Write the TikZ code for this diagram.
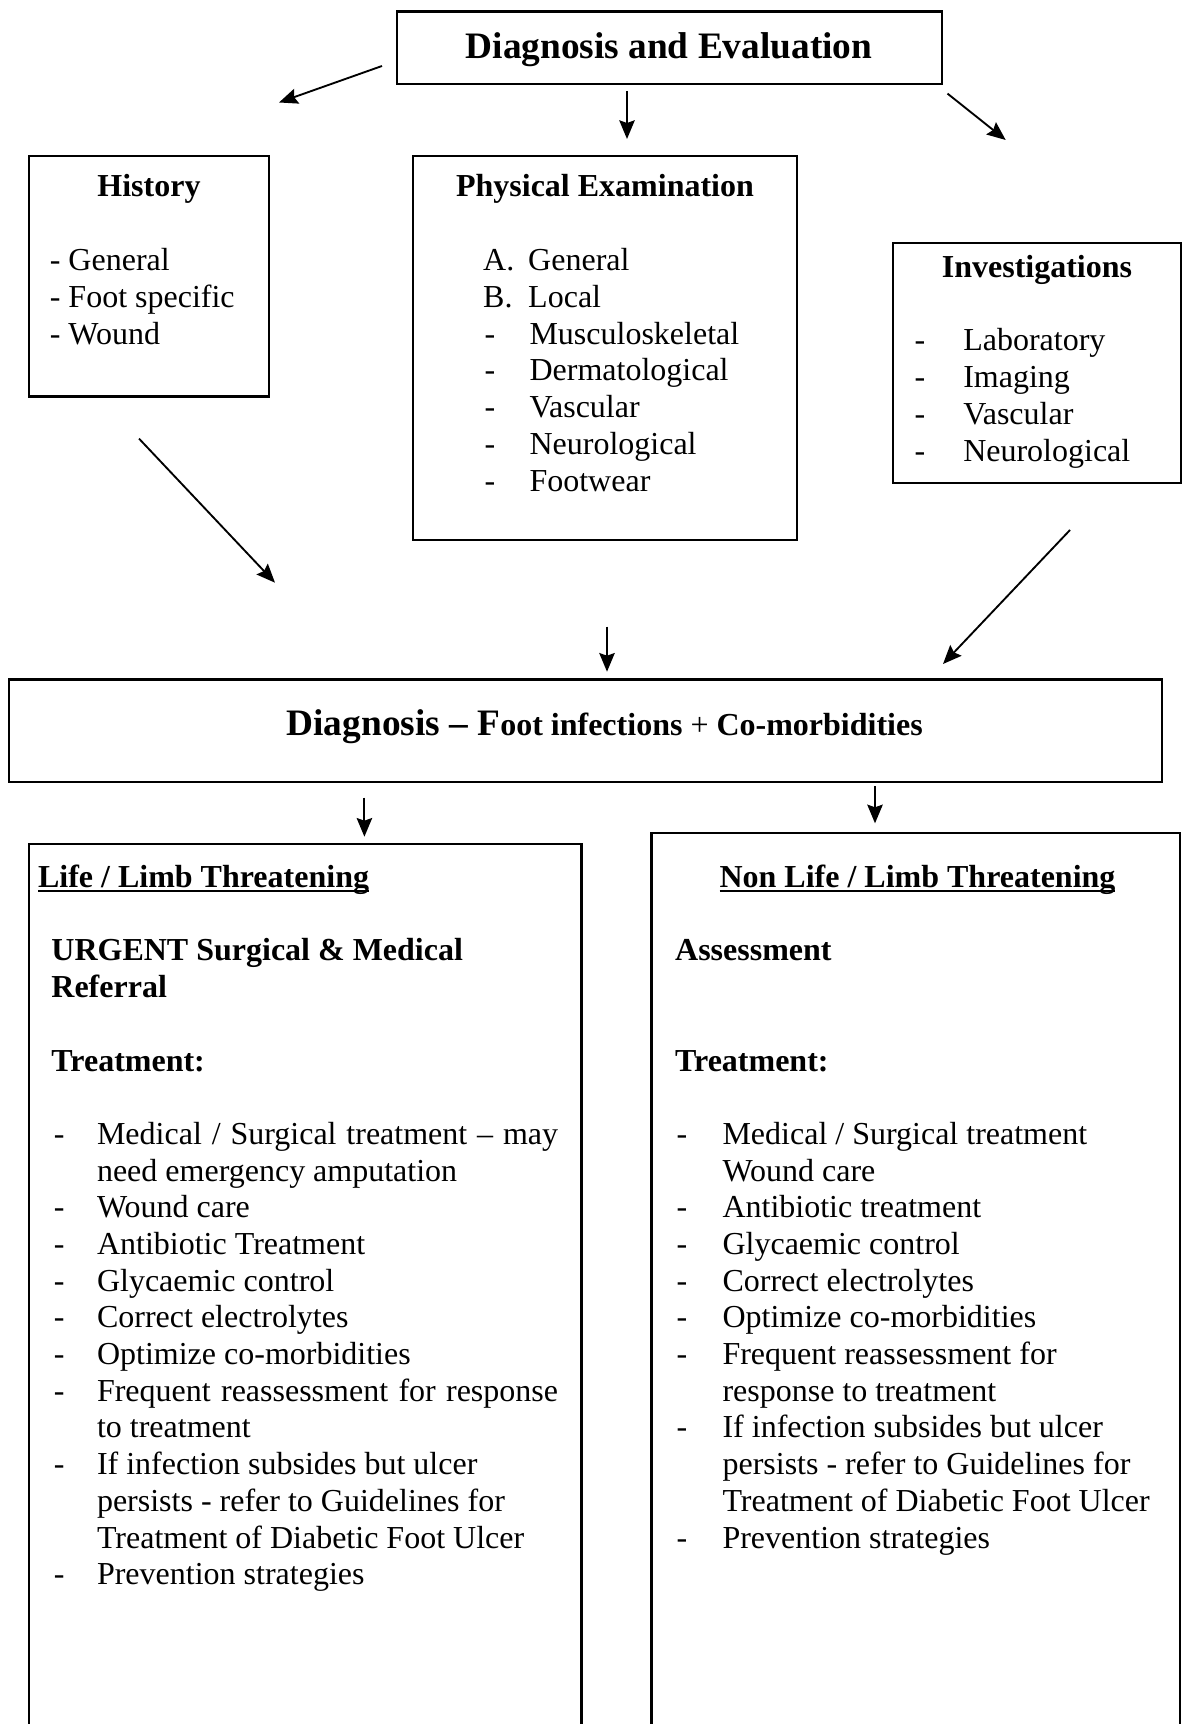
\documentclass[tikz,border=0pt]{standalone}
\usepackage{fontspec}
\setmainfont{Liberation Serif}
\usetikzlibrary{arrows.meta,fit}
\newcommand\myul[1]{\setbox0\hbox{#1}\rlap{\rule[-1.7pt]{\wd0}{0.8pt}}\box0}
\tikzset{
  box/.style={draw, line width=0.85pt, inner sep=0pt},
  arr/.style={line width=0.7pt, -{Stealth[length=7pt,width=5.8pt,inset=1pt]}},
  txt/.style={inner sep=0pt, anchor=base west, font=\fontsize{12}{14}\selectfont},
  ctxt/.style={inner sep=0pt, anchor=base, font=\fontsize{12}{14}\selectfont},
  bhead/.style={inner sep=0pt, anchor=base west, font=\fontsize{12}{14}\selectfont\bfseries},
  chead/.style={inner sep=0pt, anchor=base, font=\fontsize{12}{14}\selectfont\bfseries}
}
\begin{document}
\begin{tikzpicture}[x=0.375pt,y=-0.375pt]
\useasboundingbox (0,0) rectangle (1183,1724);
% boxes
\node[box, fit={(397,11.5) (942,84)}] (top) {};
\node[box, fit={(29,156) (269,396.5)}] (hist) {};
\node[box, fit={(412.7,156) (797,540)}] (phys) {};
\node[box, fit={(892.7,243) (1181,483.3)}] (inv) {};
\node[box, fit={(9,679.5) (1162,781.7)}] (diag) {};
\node[box, fit={(29,844) (581.5,1745)}] (left) {};
\node[box, fit={(651.6,833.3) (1180,1745)}] (right) {};
% title texts
\node[chead, font=\fontsize{14}{16}\selectfont\bfseries] (toptxt) at (669,59) {Diagnosis and Evaluation};
\node[chead] (histt) at (149,197) {History};
\node[chead] (physt) at (605,197) {Physical Examination};
\node[chead] (invt) at (1037,278) {Investigations};
\node[inner sep=0pt, anchor=base] (diagt) at (604.7,735)
  {{\fontsize{14}{16}\selectfont\bfseries Diagnosis – F}{\fontsize{12}{14}\selectfont\bfseries oot infections}{\fontsize{12}{14}\selectfont\ + }{\fontsize{12}{14}\selectfont\bfseries Co-morbidities}};
% history list
\foreach \t [count=\i from 0] in {General, Foot specific, Wound}
  \node[txt] (h\i) at (49.3,{271+36.7*\i}) {- \t};
% physical examination list
\node[txt] (pA) at (482.7,270.5) {A.};
\node[txt] (pAt) at (527.7,270.5) {General};
\node[txt] (pB) at (482.7,307.3) {B.};
\node[txt] (pBt) at (527.7,307.3) {Local};
\foreach \t [count=\i from 2] in {Musculoskeletal, Dermatological, Vascular, Neurological, Footwear}{
  \node[txt] (pd\i) at (484,{270.5+36.8*\i}) {-};
  \node[txt] (pt\i) at (529,{270.5+36.8*\i}) {\t};
}
% investigations list
\foreach \t [count=\i from 0] in {Laboratory, Imaging, Vascular, Neurological}{
  \node[txt] (id\i) at (914,{351+36.8*\i}) {-};
  \node[txt] (it\i) at (962.7,{351+36.8*\i}) {\t};
}
% left box
\node[bhead] (lh) at (37.5,887.5) {\myul{Life / Limb Threatening}};
\node[bhead] (lu1) at (50.9,960.5) {URGENT Surgical \& Medical};
\node[bhead] (lu2) at (50.9,997.5) {Referral};
\node[bhead] (lt) at (50.9,1071.3) {Treatment:};
\foreach \t [count=\i from 0] in {
  {\makebox[172.9pt][s]{Medical / Surgical treatment – may}},
  {need emergency amputation},
  {Wound care},
  {Antibiotic Treatment},
  {Glycaemic control},
  {Correct electrolytes},
  {Optimize co-morbidities},
  {\makebox[172.9pt][s]{Frequent reassessment for response}},
  {to treatment},
  {If infection subsides but ulcer},
  {persists - refer to Guidelines for},
  {Treatment of Diabetic Foot Ulcer},
  {Prevention strategies}}
  \node[txt] (li\i) at (96.5,{1144.3+36.7*\i}) {\t};
\foreach \i in {0,2,3,4,5,6,7,9,12}
  \node[txt] (ld\i) at (53.3,{1144.3+36.7*\i}) {-};
% right box
\node[chead] (rh) at (917.5,887.5) {\myul{Non Life / Limb Threatening}};
\node[bhead] (ra) at (674.6,960.5) {Assessment};
\node[bhead] (rt) at (674.6,1071.3) {Treatment:};
\foreach \t [count=\i from 0] in {
  {Medical / Surgical treatment},
  {Wound care},
  {Antibiotic treatment},
  {Glycaemic control},
  {Correct electrolytes},
  {Optimize co-morbidities},
  {Frequent reassessment for},
  {response to treatment},
  {If infection subsides but ulcer},
  {persists - refer to Guidelines for},
  {Treatment of Diabetic Foot Ulcer},
  {Prevention strategies}}
  \node[txt] (ri\i) at (722,{1144.3+36.7*\i}) {\t};
\foreach \i in {0,2,3,4,5,6,8,11}
  \node[txt] (rd\i) at (676,{1144.3+36.7*\i}) {-};
% arrow end points
\coordinate (a1s) at (382,66);   \coordinate (a1e) at (279,102.5);
\coordinate (a2s) at (627,91);   \coordinate (a2e) at (627,139);
\coordinate (a3s) at (947.5,93.6); \coordinate (a3e) at (1005.7,140);
\coordinate (a4s) at (139,438.6); \coordinate (a4e) at (275,582.7);
\coordinate (a5s) at (1070,530); \coordinate (a5e) at (943,664);
\coordinate (a6s) at (607,626.7); \coordinate (a6e) at (607,671.7);
\coordinate (a7s) at (364.4,797.7); \coordinate (a7e) at (364.4,836.7);
\coordinate (a8s) at (875,786); \coordinate (a8e) at (875,823.3);
\foreach \k in {1,...,8}
  \draw[arr] (a\k s) -- (a\k e);
\end{tikzpicture}
\end{document}
